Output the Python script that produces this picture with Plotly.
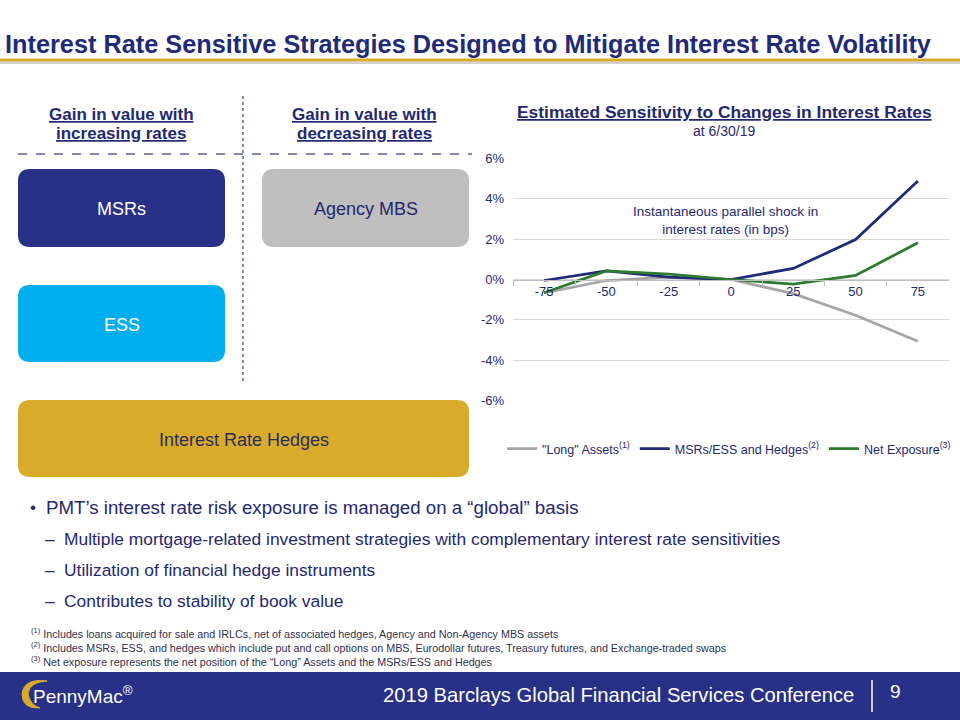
import plotly.graph_objects as go

# ---------------- data ----------------
shock_bps = ["-75", "-50", "-25", "0", "25", "50", "75"]
long_assets = [-0.66, -0.05, 0.12, 0.0, -0.70, -1.77, -3.06]
msr_ess_hedges = [-0.05, 0.43, 0.12, 0.0, 0.55, 1.98, 4.89]
net_exposure = [-0.66, 0.43, 0.27, 0.0, -0.23, 0.20, 1.82]
series_names = ['"Long" Assets<sup>(1)</sup>', 'MSRs/ESS and Hedges<sup>(2)</sup>', 'Net Exposure<sup>(3)</sup>']
y_tick_vals = [-6, -4, -2, 0, 2, 4, 6]
y_tick_text = ["-6%", "-4%", "-2%", "0%", "2%", "4%", "6%"]

NAVY = "#1f2a78"
BOX_NAVY = "#283087"
GOLD = "#d9ab2a"
GRAY_BOX = "#bfbfbf"
ESS_BLUE = "#00aeef"
LINE_GRAY = "#a6a6a6"
LINE_NAVY = "#1f2a78"
LINE_GREEN = "#2e7a2e"
TEXT_NAVY = "#1f2870"
FONT = "Liberation Sans, Arial, sans-serif"

W, H = 960, 720


def px(x):
    return x / W


def py(y):
    return 1 - y / H


def rounded_rect(x0, y0, x1, y1, r):
    pts = []
    pts.append(f"M {px(x0 + r)},{py(y0)}")
    pts.append(f"L {px(x1 - r)},{py(y0)}")
    pts.append(f"Q {px(x1)},{py(y0)} {px(x1)},{py(y0 + r)}")
    pts.append(f"L {px(x1)},{py(y1 - r)}")
    pts.append(f"Q {px(x1)},{py(y1)} {px(x1 - r)},{py(y1)}")
    pts.append(f"L {px(x0 + r)},{py(y1)}")
    pts.append(f"Q {px(x0)},{py(y1)} {px(x0)},{py(y1 - r)}")
    pts.append(f"L {px(x0)},{py(y0 + r)}")
    pts.append(f"Q {px(x0)},{py(y0)} {px(x0 + r)},{py(y0)}")
    pts.append("Z")
    return " ".join(pts)


fig = go.Figure()
for name, vals, col in [(series_names[0], long_assets, LINE_GRAY),
                        (series_names[1], msr_ess_hedges, LINE_NAVY),
                        (series_names[2], net_exposure, LINE_GREEN)]:
    fig.add_trace(go.Scatter(x=shock_bps, y=vals, name=name, mode="lines",
                             line=dict(color=col, width=2.75)))

# plot area geometry
x_dom = [px(513), px(949)]
y_dom = [py(400.5), py(158.5)]
y_rng = [-6, 6]
zero_pos = y_dom[0] + (0 - y_rng[0]) / (y_rng[1] - y_rng[0]) * (y_dom[1] - y_dom[0])

shapes = []
# title underline (gold with shadow)
shapes.append(dict(type="rect", xref="paper", yref="paper", x0=0, x1=1, y0=py(64), y1=py(61.5),
                   fillcolor="#d0d0d0", line=dict(width=0), layer="below"))
shapes.append(dict(type="rect", xref="paper", yref="paper", x0=0, x1=1, y0=py(61.5), y1=py(58.5),
                   fillcolor=GOLD, line=dict(width=0), layer="below"))
# footer band
shapes.append(dict(type="rect", xref="paper", yref="paper", x0=0, x1=1, y0=0, y1=py(672),
                   fillcolor=BOX_NAVY, line=dict(width=0), layer="below"))
shapes.append(dict(type="line", xref="paper", yref="paper", x0=px(872), x1=px(872), y0=py(680), y1=py(712),
                   line=dict(color="white", width=1.5)))
# logo ring
shapes.append(dict(type="path", xref="paper", yref="paper",
                   path=f"M {px(47)},{py(681)} Q {px(24)},{py(678)} {px(22)},{py(694)} Q {px(22)},{py(709)} {px(40)},{py(708)} Q {px(30)},{py(705)} {px(28)},{py(694)} Q {px(29)},{py(682)} {px(47)},{py(681)} Z",
                   fillcolor=GOLD, line=dict(color=GOLD, width=1)))
# dashed separators
shapes.append(dict(type="line", xref="paper", yref="paper", x0=px(243), x1=px(243), y0=py(96), y1=py(383),
                   line=dict(color="#5c5f9a", width=1.5, dash="dot")))
shapes.append(dict(type="line", xref="paper", yref="paper", x0=px(18), x1=px(472), y0=py(154), y1=py(154),
                   line=dict(color="#5c5f9a", width=1.5, dash="dash")))
# boxes
boxes = [
    (18, 169, 225, 247, BOX_NAVY, "MSRs", "white"),
    (262, 169, 469, 247, GRAY_BOX, "Agency MBS", TEXT_NAVY),
    (18, 285, 225, 362, ESS_BLUE, "ESS", "white"),
    (18, 400, 469, 477, GOLD, "Interest Rate Hedges", "#2b2d5c"),
]
annotations = []
for x0, y0, x1, y1, col, label, tcol in boxes:
    shapes.append(dict(type="path", xref="paper", yref="paper", path=rounded_rect(x0, y0, x1, y1, 12),
                       fillcolor=col, line=dict(width=0), layer="below"))
    annotations.append(dict(x=px((x0 + x1) / 2), y=py((y0 + y1) / 2 + 1), xref="paper", yref="paper",
                            text=label, showarrow=False, font=dict(size=18, color=tcol, family=FONT),
                            xanchor="center", yanchor="middle"))


def txt(x, y, text, size, color=TEXT_NAVY, xanchor="left", bold=False):
    if bold:
        text = f"<b>{text}</b>"
    annotations.append(dict(x=px(x), y=py(y), xref="paper", yref="paper", text=text, showarrow=False,
                            font=dict(size=size, color=color, family=FONT), xanchor=xanchor,
                            yanchor="middle", align="center" if xanchor == "center" else "left"))


# main title
txt(3, 44, "Interest Rate Sensitive Strategies Designed to Mitigate Interest Rate Volatility", 25.3,
    color=NAVY, bold=True)
# column headers
txt(121, 114, "<u>Gain in value with</u>", 17, xanchor="center", bold=True)
txt(121, 133, "<u>increasing rates</u>", 17, xanchor="center", bold=True)
txt(364, 114, "<u>Gain in value with</u>", 17, xanchor="center", bold=True)
txt(364, 133, "<u>decreasing rates</u>", 17, xanchor="center", bold=True)
# chart title
txt(724, 112, "<u>Estimated Sensitivity to Changes in Interest Rates</u>", 17.4, xanchor="center", bold=True)
txt(724, 131, "at 6/30/19", 14, xanchor="center")
# chart annotation
annotations.append(dict(x=px(725), y=py(220), xref="paper", yref="paper",
                        text="Instantaneous parallel shock in<br>interest rates (in bps)", showarrow=False,
                        font=dict(size=13.5, color=TEXT_NAVY, family=FONT), align="center",
                        xanchor="center", yanchor="middle"))
# bullets
txt(28, 507, "•", 17)
txt(44, 507, "PMT’s interest rate risk exposure is managed on a “global” basis", 18.7)
for yy, t in [(539, "Multiple mortgage-related investment strategies with complementary interest rate sensitivities"),
              (570, "Utilization of financial hedge instruments"),
              (601, "Contributes to stability of book value")]:
    txt(43, yy, "–", 17.4)
    txt(62, yy, t, 17.4)
# footnotes
FN = "#2f3050"
txt(29, 633, "<sup>(1)</sup> Includes loans acquired for sale and IRLCs, net of associated hedges, Agency and Non-Agency MBS assets", 10.75, color=FN)
txt(29, 647, "<sup>(2)</sup> Includes MSRs, ESS, and hedges which include put and call options on MBS, Eurodollar futures, Treasury futures, and Exchange-traded swaps", 10.75, color=FN)
txt(29, 661, "<sup>(3)</sup> Net exposure represents the net position of the “Long” Assets and the MSRs/ESS and Hedges", 10.75, color=FN)
# footer
txt(856, 695, "2019 Barclays Global Financial Services Conference", 20.2, color="white", xanchor="right")
txt(895, 691, "9", 19, color="white", xanchor="center")
txt(31, 695, "PennyMac<sup>®</sup>", 19, color="white")

fig.update_layout(
    width=W, height=H,
    margin=dict(l=0, r=0, t=0, b=0, pad=0, autoexpand=False),
    paper_bgcolor="white", plot_bgcolor="white",
    font=dict(family=FONT, color=TEXT_NAVY, size=13),
    showlegend=True,
    legend=dict(orientation="h", x=px(729), y=py(449), xanchor="center", yanchor="middle",
                font=dict(size=12.5, color=TEXT_NAVY, family=FONT), itemwidth=30,
                bgcolor="rgba(0,0,0,0)", tracegroupgap=0),
    xaxis=dict(domain=x_dom, type="category", range=[-0.5, 6.5], anchor="free", position=zero_pos,
               showline=True, linecolor="#bfbfbf", linewidth=1, ticks="outside", tickson="boundaries",
               ticklen=5, tickcolor="#bfbfbf", showgrid=False, zeroline=False, automargin=False,
               tickfont=dict(size=13, color=TEXT_NAVY), fixedrange=True),
    yaxis=dict(domain=y_dom, range=y_rng, tickvals=y_tick_vals, ticktext=y_tick_text,
               showgrid=True, gridcolor="#d9d9d9", gridwidth=1, zeroline=False, showline=False,
               automargin=False, ticks="", ticklabelstandoff=8,
               tickfont=dict(size=13, color=TEXT_NAVY), fixedrange=True),
    shapes=shapes,
    annotations=annotations,
)

post = ("var gd=document.getElementById('{plot_id}');"
        "var css='margin:0;padding:0;overflow:hidden;width:960px;height:720px;';"
        "document.documentElement.style.cssText=css;document.body.style.cssText=css;"
        "gd.style.position='fixed';gd.style.left='0px';gd.style.top='0px';")
fig.write_html("out.html", post_script=post, config={"displayModeBar": False})
